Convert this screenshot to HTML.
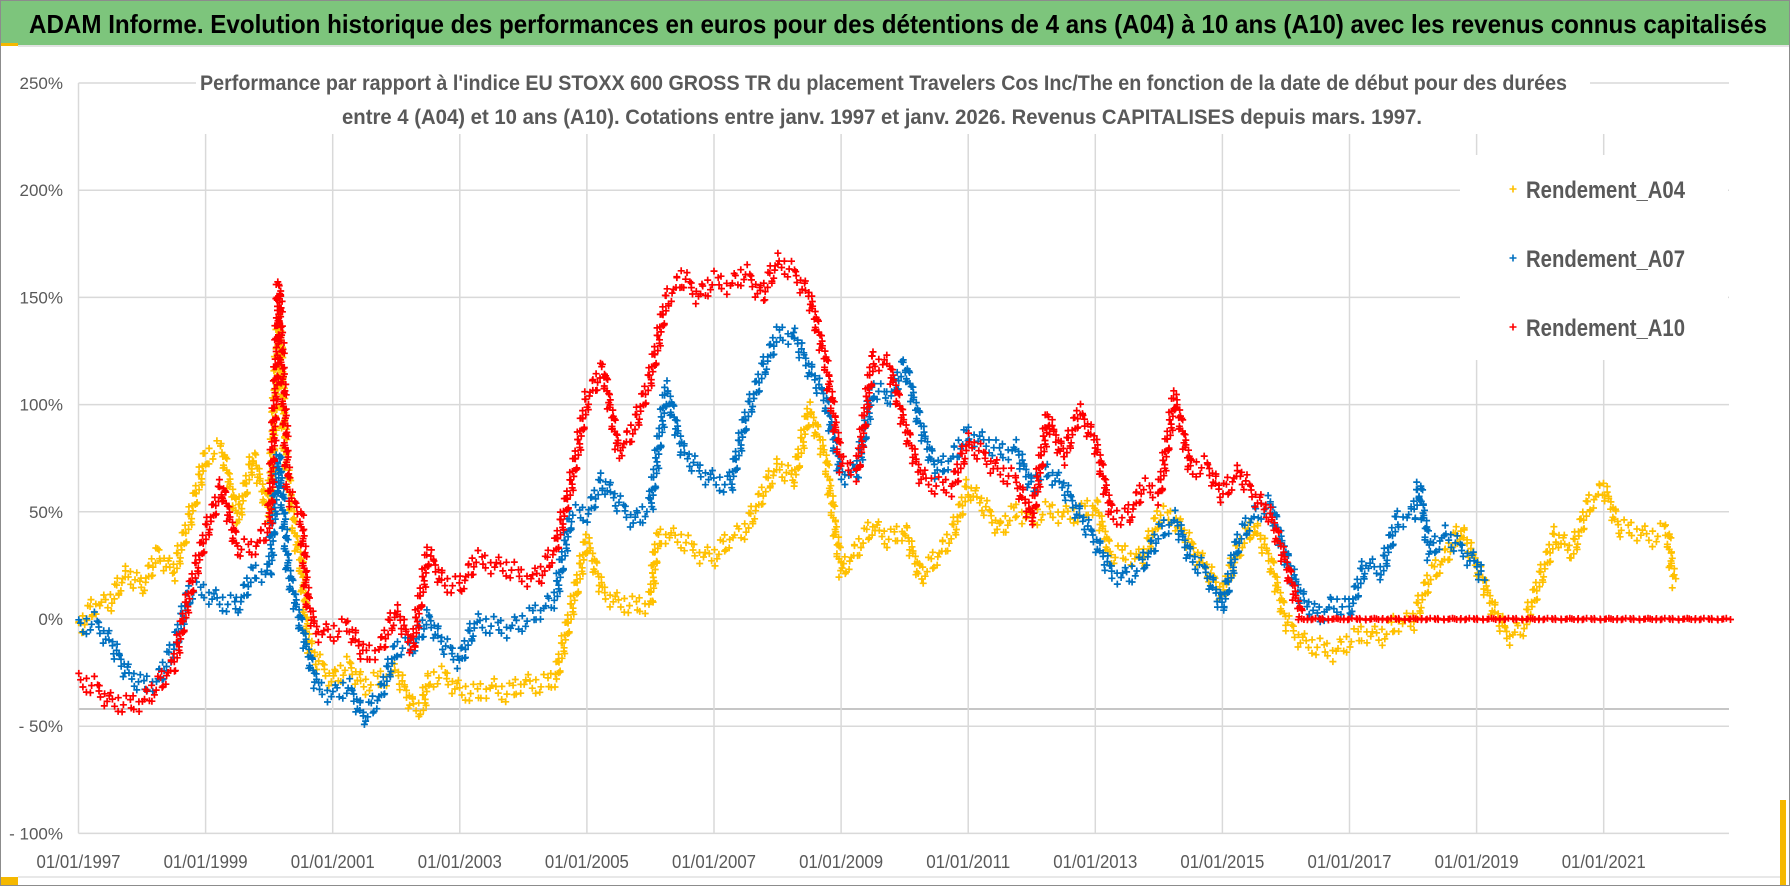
<!DOCTYPE html>
<html><head><meta charset="utf-8"><style>
html,body{margin:0;padding:0;background:#fff;}
svg{display:block;font-family:"Liberation Sans",sans-serif;}
</style></head><body>
<svg id="chart" width="1790" height="886" viewBox="0 0 1790 886" xmlns="http://www.w3.org/2000/svg">
<rect x="0.5" y="0.5" width="1789" height="885" fill="#fff" stroke="#8c8c8c"/>
<rect x="1" y="1" width="1788" height="44" fill="#7dc57c"/>
<rect x="1" y="43" width="17" height="3" fill="#f5b800"/>
<line x1="18" y1="46" x2="1789" y2="46" stroke="#d9d9d9" stroke-width="1.5"/>
<text x="29" y="33" font-size="26" font-weight="bold" fill="#000" textLength="1738" lengthAdjust="spacingAndGlyphs">ADAM Informe. Evolution historique des performances en euros pour des détentions de 4 ans (A04) à 10 ans (A10) avec les revenus connus capitalisés</text>
<g id="grid"></g>
<rect x="196" y="60" width="1394" height="74" fill="#fff"/>
<text x="200" y="90" font-size="21" font-weight="bold" fill="#595959" textLength="1367" lengthAdjust="spacingAndGlyphs">Performance par rapport à l'indice EU STOXX 600 GROSS TR  du placement Travelers Cos Inc/The en fonction de la date de début pour des durées</text>
<text x="342" y="124" font-size="21" font-weight="bold" fill="#595959" textLength="1080" lengthAdjust="spacingAndGlyphs">entre 4 (A04) et 10 ans (A10). Cotations entre janv. 1997 et janv. 2026. Revenus CAPITALISES depuis mars. 1997.</text>
<g id="ylabels"></g>
<g id="xlabels"></g>
<g id="series"></g>
<rect x="1460" y="155" width="268" height="205" fill="#fff"/>
<g>
<path d="M1509.5 189h7M1513 185.5v7" stroke="#ffc000" stroke-width="1.6"/>
<text x="1526" y="198" font-size="24" font-weight="bold" fill="#595959" textLength="159" lengthAdjust="spacingAndGlyphs">Rendement_A04</text></g>
<g>
<path d="M1509.5 258h7M1513 254.5v7" stroke="#0070c0" stroke-width="1.6"/>
<text x="1526" y="267" font-size="24" font-weight="bold" fill="#595959" textLength="159" lengthAdjust="spacingAndGlyphs">Rendement_A07</text></g>
<g>
<path d="M1509.5 327h7M1513 323.5v7" stroke="#ff0000" stroke-width="1.6"/>
<text x="1526" y="336" font-size="24" font-weight="bold" fill="#595959" textLength="159" lengthAdjust="spacingAndGlyphs">Rendement_A10</text></g>
<rect x="1" y="877" width="17" height="8" fill="#f5b800"/>
<rect x="1780" y="800" width="6" height="85" fill="#f5b800"/>
<line x1="18" y1="877" x2="1780" y2="877" stroke="#e0e0e0" stroke-width="1.5"/>
</svg>
<script>
const yTicks = [250, 200, 150, 100, 50, 0, -50, -100];
const yTickLabels = ["250%", "200%", "150%", "100%", "50%", "0%", "- 50%", "- 100%"];
const xTicks = [1997, 1999, 2001, 2003, 2005, 2007, 2009, 2011, 2013, 2015, 2017, 2019, 2021];
const xTickLabels = ["01/01/1997","01/01/1999","01/01/2001","01/01/2003","01/01/2005","01/01/2007","01/01/2009","01/01/2011","01/01/2013","01/01/2015","01/01/2017","01/01/2019","01/01/2021"];

const datesA04 = [1997.0,1997.25,1997.5,1997.75,1998.0,1998.25,1998.5,1998.75,1999.0,1999.25,1999.5,1999.75,2000.0,2000.15,2000.25,2000.4,2000.5,2000.6,2000.75,2001.0,2001.25,2001.5,2001.75,2002.0,2002.25,2002.4,2002.5,2002.75,2003.0,2003.25,2003.5,2003.75,2004.0,2004.25,2004.5,2004.75,2005.0,2005.25,2005.5,2005.75,2006.0,2006.1,2006.25,2006.5,2006.75,2007.0,2007.25,2007.5,2007.75,2008.0,2008.25,2008.5,2008.75,2009.0,2009.25,2009.5,2009.75,2010.0,2010.25,2010.5,2010.75,2011.0,2011.25,2011.5,2011.75,2012.0,2012.25,2012.5,2012.75,2013.0,2013.25,2013.5,2013.75,2014.0,2014.25,2014.5,2014.75,2015.0,2015.25,2015.5,2015.75,2016.0,2016.25,2016.5,2016.75,2017.0,2017.25,2017.5,2017.75,2018.0,2018.25,2018.5,2018.75,2019.0,2019.25,2019.5,2019.75,2020.0,2020.25,2020.5,2020.75,2021.0,2021.25,2021.5,2021.75,2022.0,2022.1];
const valsA04 = [-5,7,8,22,15,31,22,47,76,80,47,76,49,138,76,40,26,-10,-19,-28,-21,-31,-28,-24,-40,-42,-28,-26,-33,-35,-31,-35,-29,-31,-28,4,37,13,8,6,8,37,40,37,31,29,38,42,58,72,65,98,76,22,33,44,37,42,20,29,40,62,53,42,51,47,51,49,49,54,29,31,28,49,47,35,24,12,33,44,28,-1,-10,-13,-15,-10,-6,-8,-1,-1,19,29,42,26,6,-8,-3,19,40,31,53,62,42,42,38,42,17];

const datesA07 = [1997.0,1997.25,1997.5,1997.75,1998.0,1998.25,1998.5,1998.75,1999.0,1999.25,1999.5,1999.75,2000.0,2000.15,2000.3,2000.5,2000.75,2001.0,2001.25,2001.5,2001.75,2002.0,2002.25,2002.5,2002.75,2003.0,2003.25,2003.5,2003.75,2004.0,2004.25,2004.5,2004.75,2005.0,2005.25,2005.5,2005.75,2006.0,2006.25,2006.5,2006.75,2007.0,2007.25,2007.5,2007.75,2008.0,2008.25,2008.5,2008.75,2009.0,2009.25,2009.5,2009.75,2010.0,2010.25,2010.5,2010.75,2011.0,2011.25,2011.5,2011.75,2012.0,2012.25,2012.5,2012.75,2013.0,2013.25,2013.5,2013.75,2014.0,2014.25,2014.5,2014.75,2015.0,2015.25,2015.5,2015.75,2016.0,2016.25,2016.5,2016.75,2017.0,2017.25,2017.5,2017.75,2018.0,2018.1,2018.25,2018.5,2018.75,2019.0,2019.1];
const valsA07 = [-4,-1,-10,-24,-31,-28,-13,13,13,8,6,22,22,76,22,-3,-31,-35,-31,-46,-35,-13,-13,1,-12,-19,-1,-3,-4,-1,4,10,49,49,65,54,46,53,108,79,70,65,62,94,115,133,133,117,103,67,69,108,103,119,90,69,76,87,83,78,80,62,70,62,49,37,22,20,26,40,47,29,22,6,37,49,54,29,10,1,8,4,26,22,47,49,62,31,40,33,26,19];

const datesA10 = [1997.0,1997.25,1997.5,1997.75,1998.0,1998.25,1998.5,1998.75,1999.0,1999.25,1999.5,1999.75,2000.0,2000.1,2000.15,2000.3,2000.5,2000.6,2000.75,2001.0,2001.25,2001.5,2001.75,2002.0,2002.25,2002.5,2002.75,2003.0,2003.25,2003.5,2003.75,2004.0,2004.25,2004.5,2004.75,2005.0,2005.25,2005.5,2005.75,2006.0,2006.25,2006.5,2006.75,2007.0,2007.25,2007.5,2007.75,2008.0,2008.25,2008.5,2008.75,2009.0,2009.25,2009.5,2009.75,2010.0,2010.25,2010.5,2010.75,2011.0,2011.25,2011.5,2011.75,2012.0,2012.25,2012.5,2012.75,2013.0,2013.25,2013.5,2013.75,2014.0,2014.25,2014.5,2014.75,2015.0,2015.25,2015.5,2015.75,2016.0,2016.25,2016.5,2016.75,2017.0,2017.5,2018.0,2018.5,2019.0,2019.5,2020.0,2020.5,2021.0,2021.5,2022.0,2022.5,2023.0];
const valsA10 = [-29,-31,-38,-40,-38,-31,-21,13,40,62,33,33,44,108,156,58,49,8,-6,-6,-3,-17,-13,4,-13,31,17,15,28,26,24,20,20,33,63,103,117,78,90,113,149,160,151,158,156,162,151,167,162,151,121,72,69,122,119,90,67,62,62,83,76,69,65,47,94,76,97,83,49,47,62,58,104,70,72,58,69,58,49,26,0,0,0,0,0,0,0,0,0,0,0,0,0,0,0,0];

const X0 = 78.5, PX_PER_YEAR = 63.55, X_END = 1729;
const Y0 = 619, PX_PER_PCT = 107.2 / 50;
function xScale(year) { return X0 + (year - 1997) * PX_PER_YEAR; }
function yScale(v) { return Y0 - v * PX_PER_PCT; }

const NS = "http://www.w3.org/2000/svg";
const grid = document.getElementById('grid');
yTicks.forEach((t) => {
  const l = document.createElementNS(NS, 'line');
  
  
  l.setAttribute('x1', X0); l.setAttribute('x2', X_END);
  l.setAttribute('y1', yScale(t)); l.setAttribute('y2', yScale(t));
  l.setAttribute('stroke', '#d9d9d9'); l.setAttribute('stroke-width', '1.5');
  grid.appendChild(l);
});
const ref = document.createElementNS(NS, 'line');


ref.setAttribute('x1', X0); ref.setAttribute('x2', X_END);
ref.setAttribute('y1', 709); ref.setAttribute('y2', 709);
ref.setAttribute('stroke', '#b3b3b3'); ref.setAttribute('stroke-width', '1.5');
grid.appendChild(ref);
xTicks.forEach((t, i) => {
  const l = document.createElementNS(NS, 'line');
  
  
  l.setAttribute('x1', xScale(t)); l.setAttribute('x2', xScale(t));
  l.setAttribute('y1', i === 0 ? yScale(250) : 134); l.setAttribute('y2', yScale(-100));
  l.setAttribute('stroke', '#d9d9d9'); l.setAttribute('stroke-width', '1.5');
  grid.appendChild(l);
});

const yl = document.getElementById('ylabels');
yTicks.forEach((t, i) => {
  const tx = document.createElementNS(NS, 'text');
  
  
  tx.setAttribute('x', 63); tx.setAttribute('y', yScale(t) + 6);
  tx.setAttribute('text-anchor', 'end'); tx.setAttribute('font-size', '17');
  tx.setAttribute('fill', '#595959');
  tx.textContent = yTickLabels[i];
  yl.appendChild(tx);
});
const xl = document.getElementById('xlabels');
xTicks.forEach((t, i) => {
  const tx = document.createElementNS(NS, 'text');
  
  
  tx.setAttribute('x', xScale(t) - 42); tx.setAttribute('y', 868);
  tx.setAttribute('font-size', '18'); tx.setAttribute('fill', '#595959');
  tx.setAttribute('textLength', '84'); tx.setAttribute('lengthAdjust', 'spacingAndGlyphs');
  tx.textContent = xTickLabels[i];
  xl.appendChild(tx);
});

const jitter = [-6, 4, -2, 7, -4, 1, 6, -7, 3, -3, 5, -5, 0, 8, -1, 2];
function drawSeries(dates, vals, color, name) {
  let d = '';
  let k = 0;
  for (let i = 0; i < dates.length - 1; i++) {
    const xa = xScale(dates[i]), ya = yScale(vals[i]);
    const xb = xScale(dates[i + 1]), yb = yScale(vals[i + 1]);
    const len = Math.hypot(xb - xa, yb - ya);
    const n = Math.max(4, Math.ceil(len / 2.6));
    const flat = (vals[i] === 0 && vals[i + 1] === 0);
    for (let j = 0; j < n; j++) {
      const f = j / n;
      const x = xa + (xb - xa) * f + (jitter[(k + 5) % 16] * 0.35);
      const y = ya + (yb - ya) * f + (flat ? jitter[k % 16] * 0.12 : jitter[k % 16] * 1.3);
      d += 'M' + (x - 3.5).toFixed(1) + ' ' + y.toFixed(1) + 'h7M' + x.toFixed(1) + ' ' + (y - 3.5).toFixed(1) + 'v7';
      k++;
    }
  }
  const p = document.createElementNS(NS, 'path');
  
  
  p.setAttribute('d', d);
  p.setAttribute('stroke', color);
  p.setAttribute('stroke-width', '1.7');
  p.setAttribute('fill', 'none');
  document.getElementById('series').appendChild(p);
}
drawSeries(datesA04, valsA04, '#ffc000', 'series-a04');
drawSeries(datesA07, valsA07, '#0070c0', 'series-a07');
drawSeries(datesA10, valsA10, '#ff0000', 'series-a10');
</script>
</body></html>
